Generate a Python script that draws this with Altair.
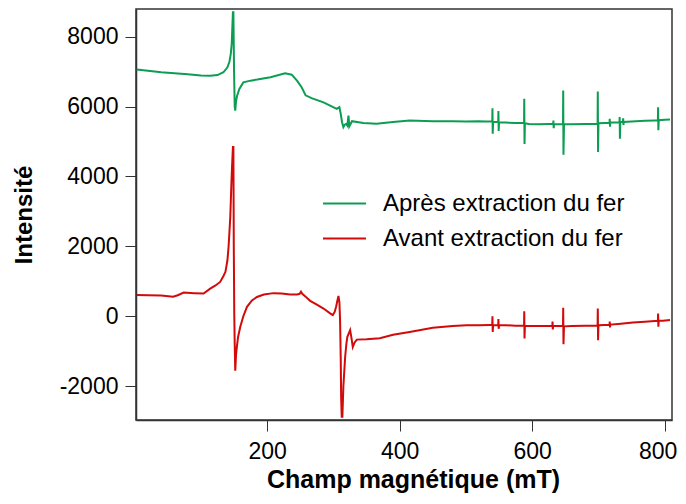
import altair as alt
import pandas as pd

# --- Data ---
apres_x = [3, 20, 40, 60, 80, 100, 114, 125, 134, 140, 143, 145, 146.5, 147.5, 148.3, 149, 150, 151, 151.8, 153,
           154.5, 158, 164, 175, 185, 205, 227, 237, 245, 252, 258, 267, 285, 305, 309, 311, 313, 315, 317, 319,
           321, 322.7, 324, 328, 345, 365, 390, 415, 450, 480, 500, 519, 530,
           539.7, 540, 540.4, 541, 548.7, 549, 549.4, 550, 560, 575,
           587.7, 588, 588.4, 589, 595, 610, 625,
           631.7, 632, 632.4, 633, 646.5, 646.8, 647.2, 648, 660, 680, 698,
           698.7, 699, 699.4, 700, 710, 716.7, 717, 717.4, 718, 725,
           731.7, 732, 732.4, 733, 737, 737.3, 737.7, 738.2, 750, 770, 785,
           789.7, 790, 790.4, 791, 800, 808]
apres_y = [7060, 7020, 6980, 6950, 6920, 6890, 6880, 6900, 6980, 7120, 7280, 7500, 7800, 8300, 8700, 8700, 7000, 6000, 5880, 6150,
           6300, 6500, 6690, 6740, 6770, 6840, 6950, 6910, 6740, 6550, 6320, 6240, 6120, 5930, 5980, 5790, 5550, 5410, 5480, 5500,
           5450, 5740, 5430, 5580, 5530, 5510, 5560, 5600, 5580, 5580, 5570, 5580, 5570,
           5570, 5950, 5220, 5560, 5560, 5870, 5300, 5550, 5540, 5530,
           5530, 6220, 4930, 5520, 5500, 5490, 5500,
           5500, 5600, 5380, 5490, 5490, 6460, 4620, 5490, 5490, 5500, 5510,
           5510, 6430, 4700, 5520, 5530, 5530, 5650, 5420, 5540, 5540,
           5540, 5700, 5080, 5560, 5560, 5660, 5470, 5560, 5570, 5590, 5600,
           5600, 5980, 5320, 5610, 5620, 5630]

avant_x = [3, 20, 40, 58, 65, 74, 90, 104, 114, 122, 129, 134, 137, 140, 141.7, 143, 144.3, 145.8, 147, 148.3,
           149, 149.6, 150.3, 151, 151.8, 153, 154.3, 156, 159.4, 164, 169.5, 177, 184.5, 195, 209.6, 222, 234.7,
           245, 249, 251, 253, 258, 264.9, 275, 285, 295, 299, 302, 304, 306, 307.6, 309, 310, 311, 311.6, 312.5,
           313.5, 315, 317.7, 319.5, 321, 323, 325.2, 327, 329.2, 332, 335.3, 350, 370, 390, 415, 450, 480, 501,
           520, 535,
           539.7, 540, 540.4, 541, 548.7, 549, 549.4, 550, 560, 575,
           587.7, 588, 588.4, 589, 600, 620,
           630.4, 630.7, 631.1, 631.6, 646.5, 646.8, 647.2, 648, 660, 680, 698,
           698.7, 699, 699.4, 700, 710, 716.7, 717, 717.4, 718, 730, 752, 770, 785,
           789.7, 790, 790.4, 791, 797.6, 808]
avant_y = [610, 600, 590, 555, 600, 676, 660, 648, 790, 880, 980, 1150, 1270, 1600, 1980, 2400, 2840, 3700, 4300, 4840,
           4840, 2000, 80, -800, -1560, -1100, -870, -600, -300, 0, 270, 450, 550, 620, 660, 650, 620,
           620, 640, 700, 640, 560, 440, 330, 220, 80, 30, 130, 270, 450, 580, 400, -110, -1200, -2300, -2880,
           -2880, -2000, -1160, -800, -590, -500, -400, -600, -880, -750, -670, -660, -630, -530, -450, -330, -280, -260,
           -260, -250,
           -250, 0, -450, -260, -260, -80, -360, -260, -260, -270,
           -270, 140, -640, -280, -280, -280,
           -280, -150, -380, -280, -280, 240, -800, -290, -280, -270, -270,
           -270, 220, -690, -260, -250, -250, -150, -320, -240, -220, -180, -160, -140,
           -140, 80, -300, -130, -130, -110]

series_names = ["Après extraction du fer", "Avant extraction du fer"]
series_colors = ["#0c9d52", "#d20a0a"]

x_ticks = [200, 400, 600, 800]
y_ticks = [-2000, 0, 2000, 4000, 6000, 8000]

rows = []
for i, (x, y) in enumerate(zip(apres_x, apres_y)):
    rows.append({"field": x, "intensity": y, "series": series_names[0], "i": i})
for i, (x, y) in enumerate(zip(avant_x, avant_y)):
    rows.append({"field": x, "intensity": y, "series": series_names[1], "i": i})
df = pd.DataFrame(rows)

FONT = "Liberation Sans"

chart = alt.Chart(df).mark_line(strokeWidth=2, clip=True).encode(
    x=alt.X("field:Q",
            scale=alt.Scale(domain=[2, 811], nice=False, zero=False),
            axis=alt.Axis(values=x_ticks, title="Champ magnétique (mT)", grid=False,
                          tickSize=11, tickColor="#333", domainColor="#333", domainWidth=1.5,
                          labelFontSize=23, labelColor="black", labelPadding=9, labelFont=FONT,
                          labelOffset={"condition": {"test": "datum.value == 800", "value": -7}, "value": 0},
                          titleFontSize=25, titleFont=FONT, titleFontWeight="bold", titleColor="black",
                          titlePadding=4, titleX=277)),
    y=alt.Y("intensity:Q",
            scale=alt.Scale(domain=[-2970, 8790], nice=False, zero=False),
            axis=alt.Axis(values=y_ticks, title="Intensité", grid=False,
                          labelExpr="'' + datum.value",
                          tickSize=11, tickColor="#333", domainColor="#333", domainWidth=1.5,
                          labelFontSize=23, labelColor="black", labelPadding=7, labelFont=FONT,
                          titleFontSize=24, titleFont=FONT, titleFontWeight="bold", titleColor="black",
                          titlePadding=23)),
    color=alt.Color("series:N",
                    scale=alt.Scale(domain=series_names, range=series_colors),
                    legend=alt.Legend(orient="none", legendX=186, legendY=172, title=None,
                                      symbolType="stroke", symbolSize=1849, symbolStrokeWidth=2,
                                      labelFontSize=24, labelFont=FONT, labelColor="black",
                                      labelLimit=500, labelOffset=16, rowPadding=0)),
    order=alt.Order("i:Q"),
).properties(
    width=536, height=411,
    padding={"left": 128, "top": 1, "right": 6, "bottom": 76},
    autosize=alt.AutoSizeParams(type="none"),
).configure_view(
    stroke="#333", strokeWidth=1.5
)

chart.save("out.html", embed_options={"renderer": "svg", "actions": False})
